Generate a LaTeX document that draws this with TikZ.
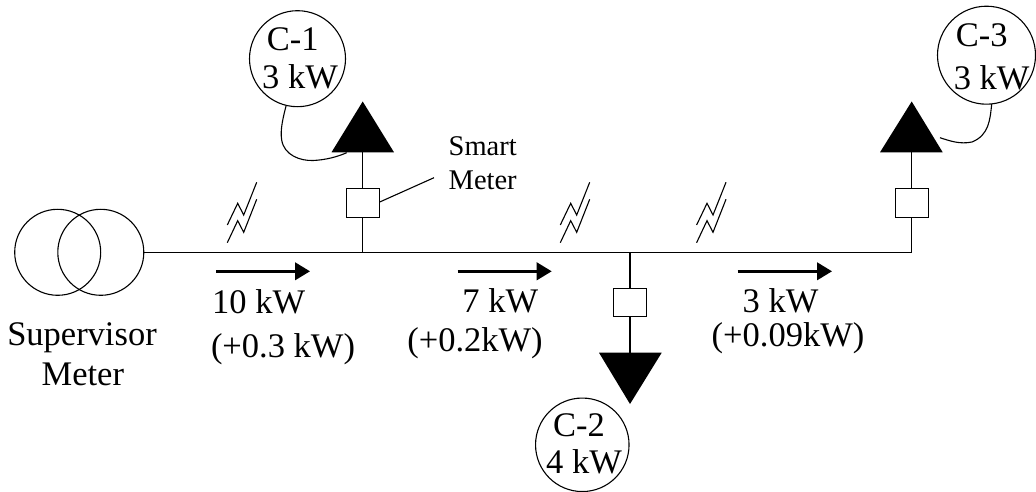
\documentclass[tikz,border=0pt]{standalone}
\usepackage{fontspec}
\setmainfont{Liberation Serif}
\usetikzlibrary{arrows.meta}
\tikzset{
  wire/.style={line width=1.1pt,draw=black},
  lbl/.style={inner sep=0pt,anchor=base,font=\fontsize{34.5}{36}\selectfont},
  smalllbl/.style={inner sep=0pt,anchor=base,font=\fontsize{28.5}{30}\selectfont},
  circ/.style={circle,draw=black,line width=1.1pt,fill=white,inner sep=0pt},
  meterbox/.style={rectangle,draw=black,line width=1.1pt,fill=white,minimum width=33pt,minimum height=28.7pt,inner sep=0pt},
  loadtri/.style={fill=black,draw=none},
  flow/.style={line width=2.5pt,-{Triangle[length=15pt,width=17.5pt]}},
  bolt/.pic={
    \draw[line width=1.1pt] (0,0) -- (-13,32.7) -- (-19,21) -- (-29.4,42.7);
    \draw[line width=1.1pt] (0,17) -- (-13,50) -- (-19,38.4) -- (-29.4,60.4);
  }
}
\begin{document}
\begin{tikzpicture}[x=1pt,y=-1pt]
\useasboundingbox (0,0) rectangle (1036,492);
% supervisor transformer
\node[circ,fill=none,minimum size=86pt] (t1) at (57.7,252.3) {};
\node[circ,fill=none,minimum size=86pt] (t2) at (100.8,252.3) {};
% bus
\coordinate (j1) at (362.7,252.3);
\coordinate (j2) at (630,252.3);
\coordinate (j3) at (911.7,252.3);
\draw[wire] (t2.east) -- (j1) -- (j2) -- (j3);
% load triangles
\coordinate (l1) at (362.7,152.3);
\coordinate (l2) at (630,352.7);
\coordinate (l3) at (911.7,152.3);
\fill[loadtri] (331.5,152.3) -- (362.7,101.5) -- (394,152.3) -- cycle;
\fill[loadtri] (599,352.7) -- (630,404) -- (661.7,352.7) -- cycle;
\fill[loadtri] (880,152.3) -- (911.7,101.5) -- (942.7,152.3) -- cycle;
% branches and meters
\draw[wire] (j1) -- (l1);
\draw[wire] (j2) -- (l2);
\draw[wire] (j3) -- (l3);
\node[meterbox] (m1) at (362.7,202.7) {};
\node[meterbox] (m2) at (630,302.5) {};
\node[meterbox] (m3) at (911.7,202.7) {};
% customers
\node[circ,minimum size=96pt] (c1) at (297.5,58.7) {};
\node[circ,minimum size=93.5pt] (c2) at (582.3,444.8) {};
\node[circ,minimum size=98pt] (c3) at (986.5,55.2) {};
\coordinate (s1c) at (286,106);
\coordinate (e1) at (346.7,152.7);
\coordinate (s3c) at (991.7,104);
\coordinate (e3) at (940,137.7);
\draw[wire] (s1c) .. controls (283,118) and (280,130) .. (281.7,140) .. controls (284,155) and (300,161) .. (313,160.5) .. controls (325,160) and (337,157) .. (e1);
\draw[wire] (s3c) .. controls (990,120) and (989,135) .. (972,142) .. controls (960,144.5) and (950,141) .. (e3);
\node[lbl] (c1a) at (292.7,50.7) {C-1};
\node[lbl] (c1b) at (300,89) {3 kW};
\node[lbl] (c2a) at (579,436.7) {C-2};
\node[lbl] (c2b) at (584,473) {4 kW};
\node[lbl] (c3a) at (981.7,46.7) {C-3};
\node[lbl] (c3b) at (991.7,90) {3 kW};
% smart meter label
\node[smalllbl] (sm1) at (482.7,155) {Smart};
\node[smalllbl] (sm2) at (482.7,189) {Meter};
\coordinate (sml) at (434,177.7);
\draw[wire] (m1.east) ++(0,-0.7) -- (sml);
% comm symbols
\pic at (256.7,182.3) {bolt};
\pic at (589.7,182.3) {bolt};
\pic at (726,182.3) {bolt};
% flow arrows
\coordinate (a1s) at (216,271.3); \coordinate (a1e) at (310,271.3);
\coordinate (a2s) at (457.7,271.3); \coordinate (a2e) at (551.7,271.3);
\coordinate (a3s) at (737.7,271.3); \coordinate (a3e) at (832,271.3);
\draw[flow] (a1s) -- (a1e);
\draw[flow] (a2s) -- (a2e);
\draw[flow] (a3s) -- (a3e);
% texts
\node[lbl] (s1) at (82,345) {Supervisor};
\node[lbl] (s2) at (82.8,385) {Meter};
\node[lbl] (f1) at (258.7,313) {10 kW};
\node[lbl] (f1b) at (283,357) {(+0.3 kW)};
\node[lbl] (f2) at (500.3,312.3) {7 kW};
\node[lbl] (f2b) at (475,351.7) {(+0.2kW)};
\node[lbl] (f3) at (780.5,312.3) {3 kW};
\node[lbl] (f3b) at (788,346.7) {(+0.09kW)};
\end{tikzpicture}
\end{document}
